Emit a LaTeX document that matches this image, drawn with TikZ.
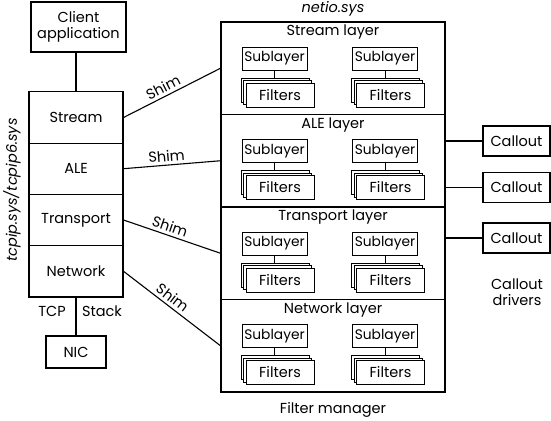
\documentclass[tikz,border=0pt]{standalone}
\usepackage{fontspec}
\setmainfont{Poppins}
\usetikzlibrary{shadows}
\begin{document}
\begin{tikzpicture}[x=1pt,y=-1pt,
  every node/.style={font=\fontsize{14.5}{17}\selectfont},
  box/.style={draw,line width=1.1pt,rectangle,inner sep=0pt,fill=white},
  layerbox/.style={draw,line width=1.1pt,rectangle,inner sep=0pt,minimum width=224pt,minimum height=92.5pt},
  stackrow/.style={box,minimum width=94pt,minimum height=51.3pt},
  sub/.style={draw,line width=0.7pt,inner sep=0pt,fill=white,minimum width=65pt,minimum height=23pt,font=\fontsize{13.8}{16}\selectfont},
  filt/.style={draw,line width=0.7pt,inner sep=0pt,fill=white,minimum width=68pt,minimum height=24pt,
    double copy shadow={shadow xshift=-2.5pt,shadow yshift=2.5pt,draw,fill=white}},
  callout/.style={box,minimum width=67pt,minimum height=30pt},
  conn/.style={line width=1.1pt},
  plain/.style={inner sep=0pt}
]
\useasboundingbox (0,0) rectangle (551,420);
\fill[white] (0,0) rectangle (551,420);

% left side
\node[box,minimum width=95pt,minimum height=50pt,align=center] (client) at (78.5,27) {Client\\[-1pt]application};
\node[stackrow] (stream) at (76,117.5) {Stream};
\node[stackrow] (ale) at (76,168.7) {ALE};
\node[stackrow] (transport) at (76,220) {Transport};
\node[stackrow] (network) at (76,271.3) {Network};
\node[box,minimum width=60pt,minimum height=32pt] (nic) at (76,352) {NIC};
\draw[conn] (stream.north) -- (client.south -| stream.north);
\draw[conn] (network.south) -- (nic.north);
\node[plain] (tcp) at (52,311) {TCP};
\node[plain] (stack) at (102,311) {Stack};
\node[plain,rotate=90,font=\fontsize{14.5}{17}\selectfont\itshape] (tcpipsys) at (12,190) {tcpip.sys/tcpip6.sys};

% filter manager
\node[plain,font=\fontsize{14.5}{17}\selectfont\itshape] (netio) at (333,9) {netio.sys};
\foreach \i/\top/\name in {1/22/Stream layer,2/114.5/ALE layer,3/207/Transport layer,4/299.5/Network layer}{
  \node[layerbox] (L\i) at (333,\top+46.25) {};
  \node[plain] (T\i) at (333,\top+10.5) {\name};
  \foreach \j/\xs in {a/274.5,b/385}{
    \node[sub] (S\i\j) at (\xs,\top+36.5) {Sublayer};
    \draw[line width=0.7pt] (S\i\j.south) -- ++(0,8.5);
    \node[filt] (F\i\j) at (\xs+5.5,\top+73) {Filters};
  }
}
\node[plain] (fm) at (333,410) {Filter manager};

% shims
\draw[conn] (stream.east) -- node[pos=0.45,above,sloped,plain,yshift=3pt] {Shim} (L1.west);
\draw[conn] (ale.east) -- node[pos=0.45,above,sloped,plain,yshift=3pt] {Shim} (L2.west);
\draw[conn] (transport.east) -- node[pos=0.45,above,sloped,plain,yshift=3pt] {Shim} (L3.west);
\draw[conn] (network.east) -- node[pos=0.45,above,sloped,plain,yshift=3pt] {Shim} (L4.west);

% callouts
\node[callout] (C1) at (516.5,141) {Callout};
\node[callout] (C2) at (516.5,187.5) {Callout};
\node[callout] (C3) at (516.5,238) {Callout};
\draw[conn] (C1.west) -- (C1.west -| L2.east);
\draw[conn] (C2.west) -- (C2.west -| L2.east);
\draw[conn] (C3.west) -- (C3.west -| L3.east);
\node[plain,align=center] (drivers) at (517,292) {Callout\\[-1pt]drivers};
\end{tikzpicture}
\end{document}
